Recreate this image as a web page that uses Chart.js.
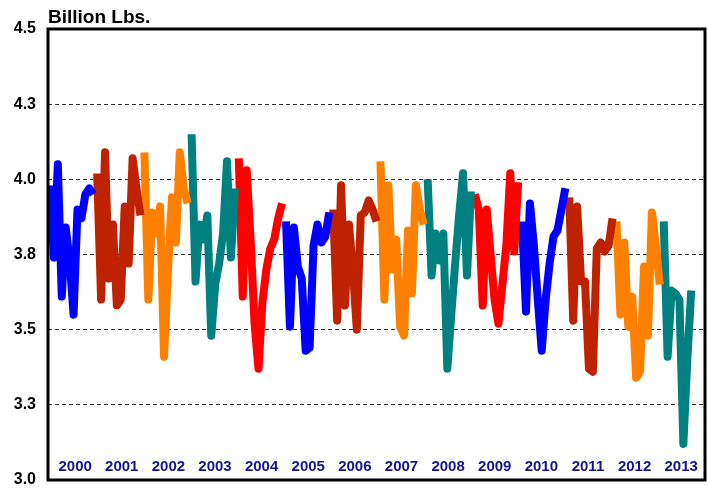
<!DOCTYPE html>
<html>
<head>
<meta charset="utf-8">
<script src="https://cdn.jsdelivr.net/npm/chart.js@4/dist/chart.umd.min.js"></script>
<style>
html,body{margin:0;padding:0;background:#fff;}
#wrap{width:708px;height:489px;position:relative;}
</style>
</head>
<body>
<div id="wrap"><canvas id="c" width="708" height="489"></canvas></div>
<script>
const years = ['2000','2001','2002','2003','2004','2005','2006','2007','2008','2009','2010','2011','2012','2013'];
const v2000 = [3.98, 3.74, 4.05, 3.61, 3.84, 3.73, 3.55, 3.90, 3.87, 3.95, 3.97, 3.95];
const v2001 = [4.02, 3.60, 4.09, 3.67, 3.85, 3.58, 3.60, 3.91, 3.72, 4.07, 3.97, 3.88];
const v2002 = [4.09, 3.60, 3.89, 3.82, 3.91, 3.41, 3.70, 3.94, 3.79, 4.09, 3.97, 3.92];
const v2003 = [4.15, 3.66, 3.85, 3.80, 3.88, 3.48, 3.65, 3.72, 3.82, 4.06, 3.74, 3.97];
const v2004 = [4.07, 3.61, 4.03, 3.80, 3.52, 3.37, 3.59, 3.70, 3.77, 3.80, 3.87, 3.92];
const v2005 = [3.86, 3.51, 3.84, 3.71, 3.67, 3.43, 3.44, 3.78, 3.85, 3.79, 3.81, 3.89];
const v2006 = [3.90, 3.53, 3.98, 3.58, 3.85, 3.70, 3.50, 3.88, 3.89, 3.93, 3.90, 3.86];
const v2007 = [4.06, 3.60, 3.98, 3.70, 3.80, 3.51, 3.48, 3.83, 3.62, 3.98, 3.90, 3.85];
const v2008 = [4.00, 3.68, 3.82, 3.73, 3.82, 3.37, 3.55, 3.72, 3.88, 4.02, 3.68, 3.96];
const v2009 = [3.95, 3.90, 3.58, 3.90, 3.75, 3.60, 3.52, 3.65, 3.78, 4.02, 3.76, 3.99];
const v2010 = [3.86, 3.56, 3.92, 3.78, 3.60, 3.43, 3.60, 3.72, 3.81, 3.83, 3.90, 3.97];
const v2011 = [3.94, 3.53, 3.91, 3.66, 3.66, 3.37, 3.36, 3.77, 3.79, 3.76, 3.78, 3.87];
const v2012 = [3.86, 3.55, 3.79, 3.51, 3.61, 3.34, 3.36, 3.71, 3.48, 3.89, 3.78, 3.65];
const v2013 = [3.86, 3.41, 3.63, 3.62, 3.60, 3.12, 3.40, 3.63];
const yTickLabels = ['3.0','3.3','3.5','3.8','4.0','4.3','4.5'];

const series = [v2000,v2001,v2002,v2003,v2004,v2005,v2006,v2007,v2008,v2009,v2010,v2011,v2012,v2013];
const palette = ['#0000FF','#BF2200','#FF8000','#008080','#FF0000'];

const datasets = series.map((vals, k) => ({
  label: years[k],
  data: vals.map((v, i) => ({x: k * 12 + i, y: v})),
  borderColor: palette[k % 5],
  backgroundColor: palette[k % 5],
  borderWidth: 8,
  pointRadius: 0,
  tension: 0,
  borderJoinStyle: 'round',
  borderCapStyle: 'butt',
  fill: false
}));

const framePlugin = {
  id: 'frame',
  afterDatasetsDraw(chart) {
    const ctx = chart.ctx, a = chart.chartArea;
    const xs = chart.scales.x, ys = chart.scales.y;
    ctx.save();
    ctx.strokeStyle = '#000';
    ctx.lineWidth = 3;
    ctx.strokeRect(a.left, a.top, a.right - a.left, a.bottom - a.top);
    ctx.fillStyle = '#14148C';
    ctx.font = 'bold 15px "Liberation Sans", Arial, sans-serif';
    ctx.textAlign = 'center';
    ctx.textBaseline = 'middle';
    years.forEach((yr, k) => {
      ctx.fillText(yr, xs.getPixelForValue(6.4 + 11.85 * k), ys.getPixelForValue(3.043));
    });
    ctx.fillStyle = '#000';
    ctx.font = 'bold 19px "Liberation Sans", Arial, sans-serif';
    ctx.textAlign = 'left';
    ctx.textBaseline = 'alphabetic';
    ctx.fillText('Billion Lbs.', a.left, 23);
    ctx.restore();
  }
};

new Chart(document.getElementById('c'), {
  type: 'line',
  data: { datasets },
  options: {
    responsive: false,
    animation: false,
    devicePixelRatio: 1,
    layout: { padding: { top: 29, right: 3, bottom: 9, left: 0 } },
    plugins: { legend: { display: false }, tooltip: { enabled: false }, title: { display: false } },
    scales: {
      x: { type: 'linear', min: -0.5, max: 166.5, display: false },
      y: {
        min: 3.0, max: 4.5,
        afterFit(scale) { scale.width = 48; scale.paddingTop = 0; scale.paddingBottom = 0; },
        afterBuildTicks(scale) {
          scale.ticks = yTickLabels.map((t, i) => ({ value: 3.0 + 0.25 * i }));
        },
        ticks: {
          callback: (v, i) => yTickLabels[i],
          color: '#000',
          padding: 12,
          font: { family: '"Liberation Sans", Arial, sans-serif', size: 16, weight: 'bold' }
        },
        grid: { color: '#333', lineWidth: 1, drawTicks: false },
        border: { display: false, dash: [4, 3] }
      }
    }
  },
  plugins: [framePlugin]
});
</script>
</body>
</html>
